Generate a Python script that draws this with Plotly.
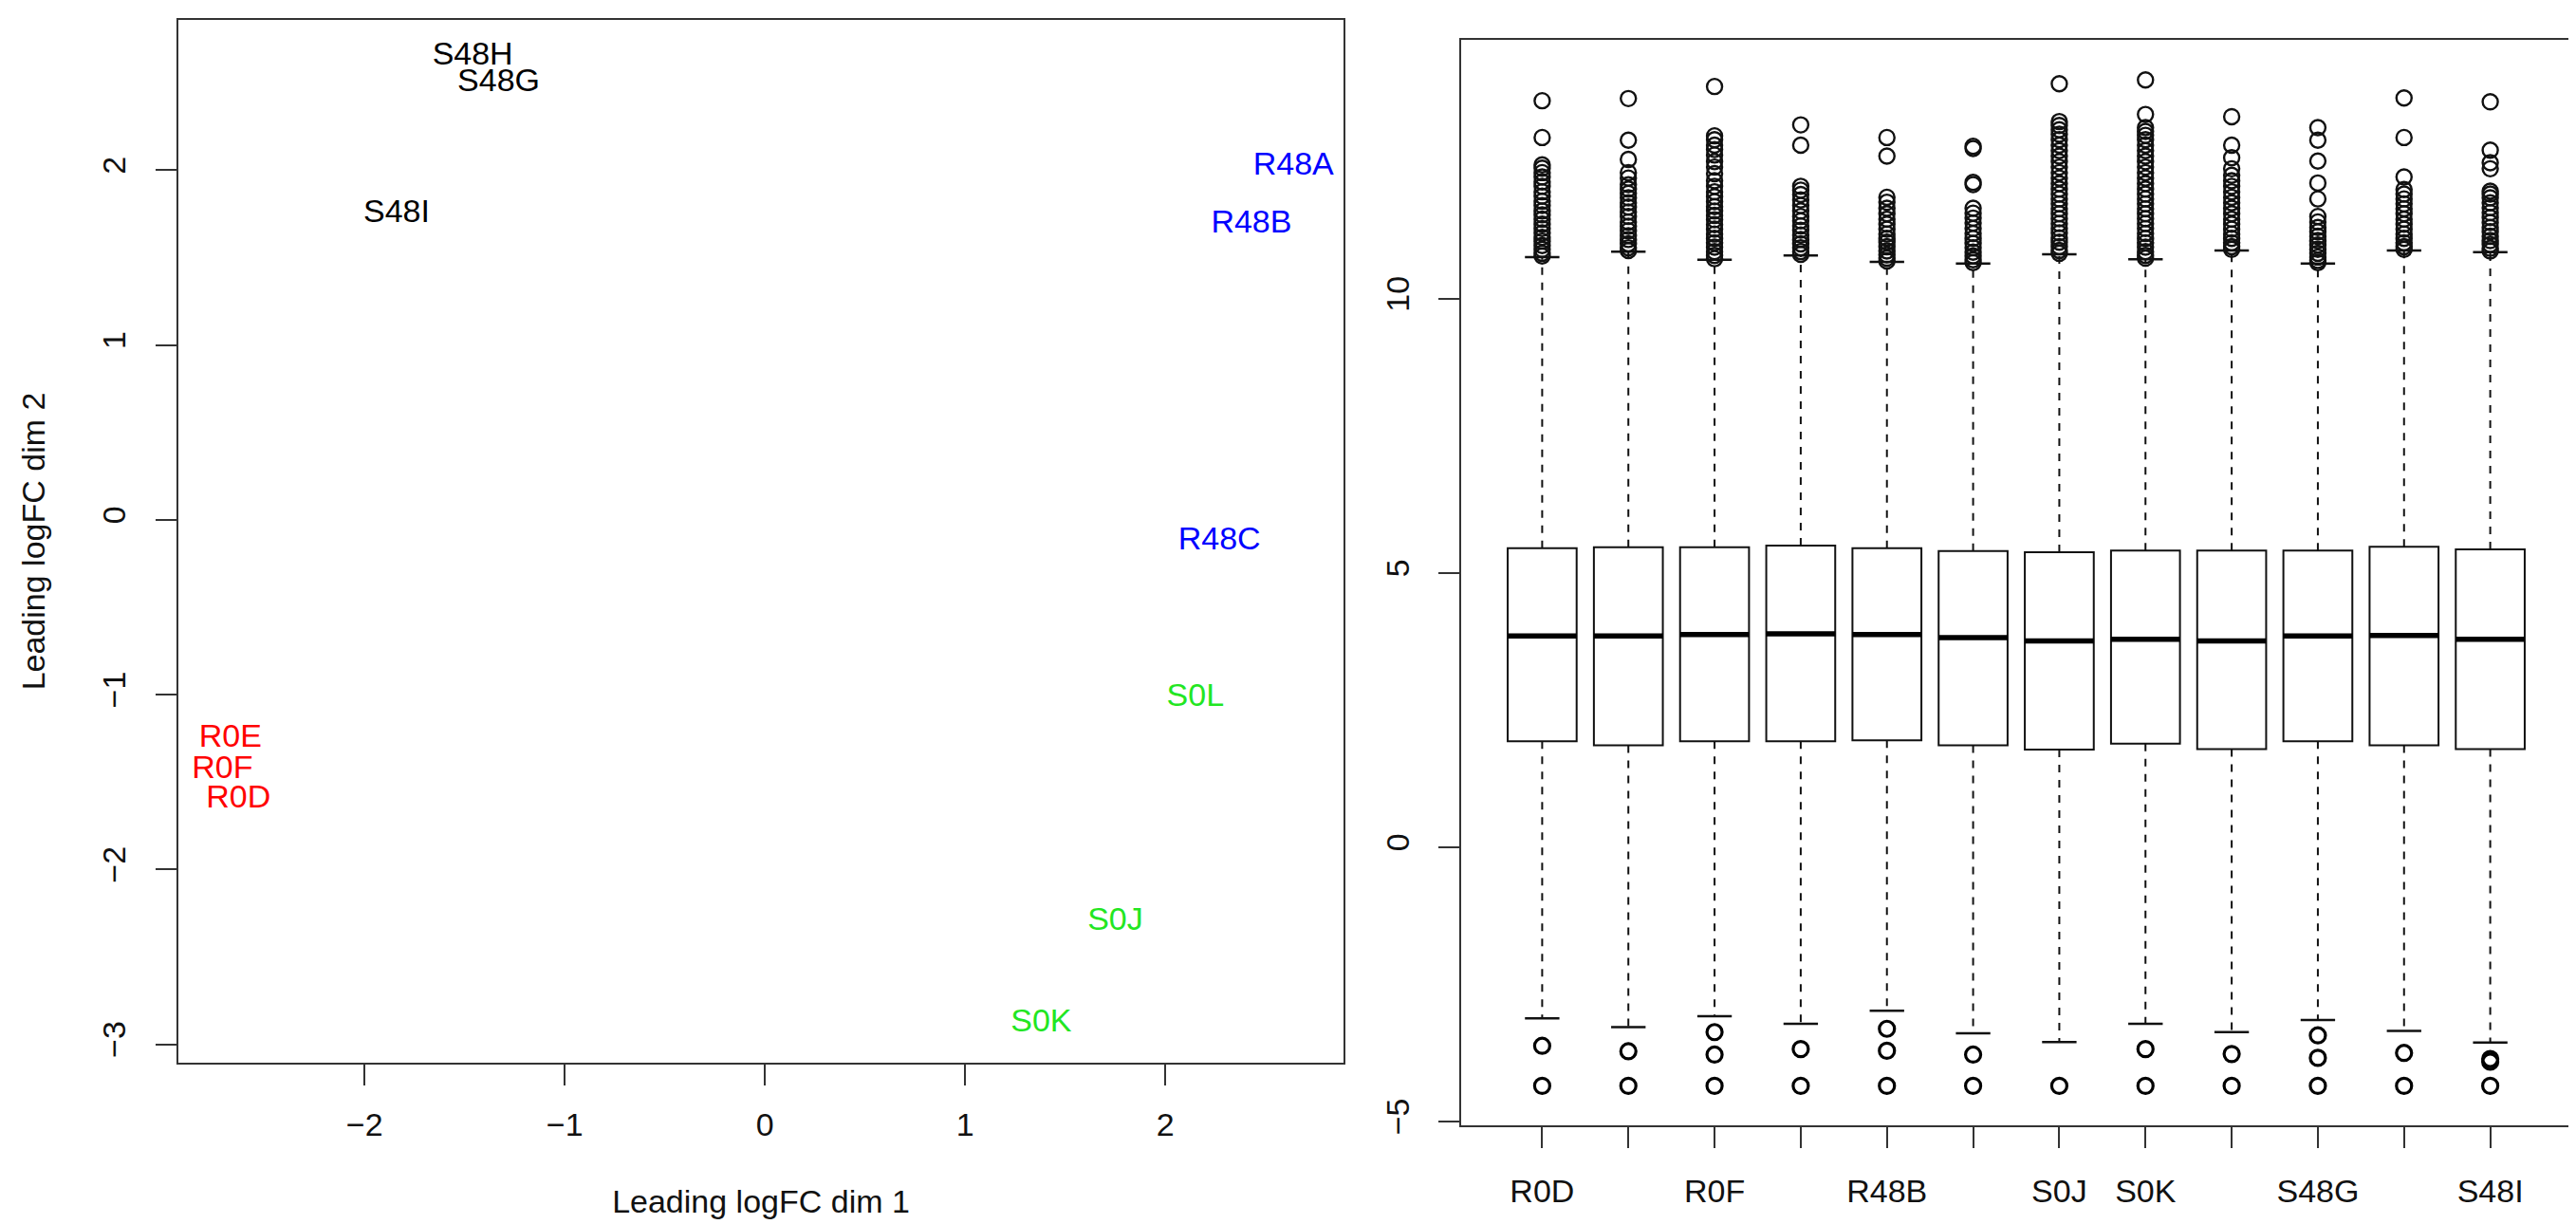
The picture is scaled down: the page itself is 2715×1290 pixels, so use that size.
import plotly.graph_objects as go

# --- MDS plot (left) ---
samples = ["S48H", "S48G", "S48I", "R48A", "R48B", "R48C",
           "S0L", "S0J", "S0K", "R0E", "R0F", "R0D"]
groups = ["S48", "S48", "S48", "R48", "R48", "R48",
          "S0", "S0", "S0", "R0", "R0", "R0"]
dim1 = [-1.46, -1.33, -1.84, 2.64, 2.43, 2.27, 2.15, 1.75, 1.38, -2.67, -2.71, -2.63]
dim2 = [2.65, 2.50, 1.75, 2.02, 1.69, -0.12, -1.02, -2.30, -2.88, -1.25, -1.43, -1.60]

# --- boxplot of log-CPM (right) ---
box_names = ["R0D", "R0E", "R0F", "R48A", "R48B", "R48C",
             "S0J", "S0K", "S0L", "S48G", "S48H", "S48I"]
shown_labels = ["R0D", "R0F", "R48B", "S0J", "S0K", "S48G", "S48I"]
q1 = [1.93, 1.86, 1.93, 1.93, 1.95, 1.86, 1.78, 1.89, 1.79, 1.93, 1.86, 1.79]
med = [3.85, 3.85, 3.88, 3.89, 3.88, 3.82, 3.76, 3.79, 3.76, 3.85, 3.86, 3.79]
q3 = [5.45, 5.47, 5.47, 5.50, 5.45, 5.40, 5.38, 5.41, 5.41, 5.41, 5.48, 5.43]
upper_whisk = [10.76, 10.86, 10.71, 10.79, 10.67, 10.64, 10.81, 10.72, 10.88, 10.64, 10.88, 10.85]
lower_whisk = [-3.12, -3.28, -3.08, -3.22, -2.98, -3.39, -3.55, -3.22, -3.37, -3.15, -3.35, -3.56]

upper_out = [
    [10.78, 10.83, 10.9, 10.97, 11.05, 11.12, 11.2, 11.28, 11.36, 11.45, 11.53, 11.6, 11.7,
     11.78, 11.87, 11.95, 12.05, 12.13, 12.22, 12.3, 12.38, 12.44, 12.94, 13.61],
    [10.88, 10.93, 11.0, 11.08, 11.15, 11.24, 11.32, 11.4, 11.5, 11.58, 11.67, 11.75, 11.84,
     11.92, 12.0, 12.08, 12.2, 12.3, 12.54, 12.89, 13.65],
    [10.73, 10.79, 10.86, 10.94, 11.02, 11.1, 11.18, 11.27, 11.35, 11.44, 11.52, 11.6, 11.68,
     11.77, 11.86, 11.95, 12.05, 12.15, 12.28, 12.4, 12.5, 12.62, 12.72, 12.8, 12.9, 12.97, 13.87],
    [10.81, 10.86, 10.93, 11.0, 11.08, 11.16, 11.25, 11.33, 11.42, 11.5, 11.6, 11.7, 11.8,
     11.9, 11.98, 12.05, 12.80, 13.17],
    [10.69, 10.74, 10.8, 10.87, 10.95, 11.03, 11.1, 11.18, 11.27, 11.36, 11.45, 11.55, 11.65,
     11.76, 11.85, 12.6, 12.94],
    [10.66, 10.71, 10.78, 10.85, 10.93, 11.01, 11.1, 11.19, 11.28, 11.38, 11.47, 11.56, 11.65,
     12.08, 12.12, 12.74, 12.78],
    [10.83, 10.88, 10.95, 11.03, 11.11, 11.2, 11.28, 11.37, 11.46, 11.55, 11.64, 11.73, 11.82,
     11.91, 12.0, 12.1, 12.2, 12.3, 12.4, 12.5, 12.6, 12.7, 12.8, 12.9, 13.0, 13.08, 13.16,
     13.23, 13.92],
    [10.74, 10.79, 10.86, 10.94, 11.02, 11.1, 11.19, 11.28, 11.37, 11.46, 11.55, 11.64, 11.73,
     11.82, 11.91, 12.0, 12.1, 12.2, 12.3, 12.4, 12.5, 12.6, 12.7, 12.8, 12.9, 12.98, 13.05,
     13.12, 13.36, 13.99],
    [10.9, 10.95, 11.02, 11.1, 11.18, 11.27, 11.36, 11.45, 11.55, 11.65, 11.75, 11.85, 11.95,
     12.05, 12.15, 12.25, 12.37, 12.57, 12.80, 13.32],
    [10.66, 10.7, 10.76, 10.83, 10.9, 10.98, 11.06, 11.14, 11.22, 11.3, 11.4, 11.5, 11.82,
     12.11, 12.51, 12.89, 13.12],
    [10.9, 10.95, 11.02, 11.1, 11.18, 11.27, 11.36, 11.45, 11.55, 11.64, 11.73, 11.82, 11.91,
     11.99, 12.22, 12.94, 13.66],
    [10.87, 10.92, 10.99, 11.06, 11.14, 11.22, 11.3, 11.39, 11.48, 11.57, 11.66, 11.75, 11.84,
     11.91, 11.96, 12.37, 12.48, 12.71, 13.59],
]
lower_out = [
    [-3.62, -4.35], [-3.72, -4.35], [-3.37, -3.78, -4.35], [-3.68, -4.35],
    [-3.31, -3.71, -4.35], [-3.78, -4.35], [-4.35], [-3.68, -4.35],
    [-3.77, -4.35], [-3.43, -3.84, -4.35], [-3.75, -4.35], [-3.86, -3.91, -4.35],
]

group_colors = {"R0": "#ff0000", "R48": "#0000ff", "S0": "#22e622", "S48": "#000000"}
FONT = "Liberation Sans, Arial, Helvetica, sans-serif"
FS = 34
W, H = 2715, 1290

fig = go.Figure()

# MDS labels
fig.add_trace(go.Scatter(
    x=dim1, y=dim2, text=samples, mode="text", textposition="middle center",
    textfont=dict(family=FONT, size=FS, color=[group_colors[g] for g in groups]),
    xaxis="x", yaxis="y", showlegend=False, hoverinfo="text"))

# boxes
pos = list(range(1, len(box_names) + 1))
for i, p in enumerate(pos):
    fig.add_trace(go.Box(
        x=[p], q1=[q1[i]], median=[med[i]], q3=[q3[i]],
        lowerfence=[q1[i]], upperfence=[q3[i]], width=0.8, whiskerwidth=0,
        fillcolor="white", line=dict(color="#111111", width=2),
        boxpoints=False, name=box_names[i], showlegend=False,
        xaxis="x2", yaxis="y2"))

# whiskers (dashed)
wx, wy = [], []
for i, p in enumerate(pos):
    wx += [p, p, None, p, p, None]
    wy += [q3[i], upper_whisk[i], None, q1[i], lower_whisk[i], None]
fig.add_trace(go.Scatter(x=wx, y=wy, mode="lines", line=dict(color="#111111", width=2, dash="8px,8px"),
                         xaxis="x2", yaxis="y2", showlegend=False, hoverinfo="skip"))

# staples + thick medians
sx, sy, mx, my = [], [], [], []
for i, p in enumerate(pos):
    sx += [p - 0.2, p + 0.2, None, p - 0.2, p + 0.2, None]
    sy += [upper_whisk[i], upper_whisk[i], None, lower_whisk[i], lower_whisk[i], None]
    mx += [p - 0.4, p + 0.4, None]
    my += [med[i], med[i], None]
fig.add_trace(go.Scatter(x=sx, y=sy, mode="lines", line=dict(color="#111111", width=2.5),
                         xaxis="x2", yaxis="y2", showlegend=False, hoverinfo="skip"))
fig.add_trace(go.Scatter(x=mx, y=my, mode="lines", line=dict(color="#000000", width=5.5),
                         xaxis="x2", yaxis="y2", showlegend=False, hoverinfo="skip"))

# outliers
ox, oy, lx, ly = [], [], [], []
for i, p in enumerate(pos):
    ox += [p] * len(upper_out[i])
    oy += upper_out[i]
    lx += [p] * len(lower_out[i])
    ly += lower_out[i]
fig.add_trace(go.Scatter(x=ox, y=oy, mode="markers",
                         marker=dict(symbol="circle-open", size=16, color="#111111", line=dict(width=2.4)),
                         xaxis="x2", yaxis="y2", showlegend=False))
fig.add_trace(go.Scatter(x=lx, y=ly, mode="markers",
                         marker=dict(symbol="circle-open", size=16, color="#000000", line=dict(width=3.2)),
                         xaxis="x2", yaxis="y2", showlegend=False))

axis_common = dict(showgrid=False, zeroline=False, showline=True, mirror=True,
                   linecolor="#333333", linewidth=2, ticks="outside", ticklen=22,
                   tickwidth=2, tickcolor="#333333", automargin=False,
                   tickfont=dict(family=FONT, size=FS, color="#111111"))

fig.update_layout(
    width=W, height=H, margin=dict(l=0, r=0, t=0, b=0),
    paper_bgcolor="white", plot_bgcolor="white",
    xaxis=dict(domain=[180 / W, 1408 / W], range=[-2.93, 2.89], tickvals=[-2, -1, 0, 1, 2],
               ticktext=["\u22122", "\u22121", "0", "1", "2"], ticklabelstandoff=12,
               title=dict(text="Leading logFC dim 1", font=dict(family=FONT, size=FS, color="#111111"),
                          standoff=51),
               anchor="y", **axis_common),
    yaxis=dict(domain=[1 - 1112 / H, 1 - 13 / H], range=[-3.105, 2.86], tickvals=[-3, -2, -1, 0, 1, 2],
               ticktext=["\u22123", "\u22122", "\u22121", "0", "1", "2"], tickangle=-90,
               ticklabelstandoff=18,
               title=dict(text="Leading logFC dim 2", font=dict(family=FONT, size=FS, color="#111111"),
                          standoff=44),
               anchor="x", **axis_common),
    xaxis2=dict(domain=[1532 / W, 2702 / W], range=[0.06, 12.94], tickvals=pos,
                ticktext=[n if n in shown_labels else "" for n in box_names],
                ticklabelstandoff=16, anchor="y2", **axis_common),
    yaxis2=dict(domain=[1 - 1178 / H, 1 - 34 / H], range=[-5.07, 14.72], tickvals=[-5, 0, 5, 10],
                ticktext=["\u22125", "0", "5", "10"], tickangle=-90, ticklabelstandoff=17,
                anchor="x2", **axis_common),
)

fig.write_html("out.html")
